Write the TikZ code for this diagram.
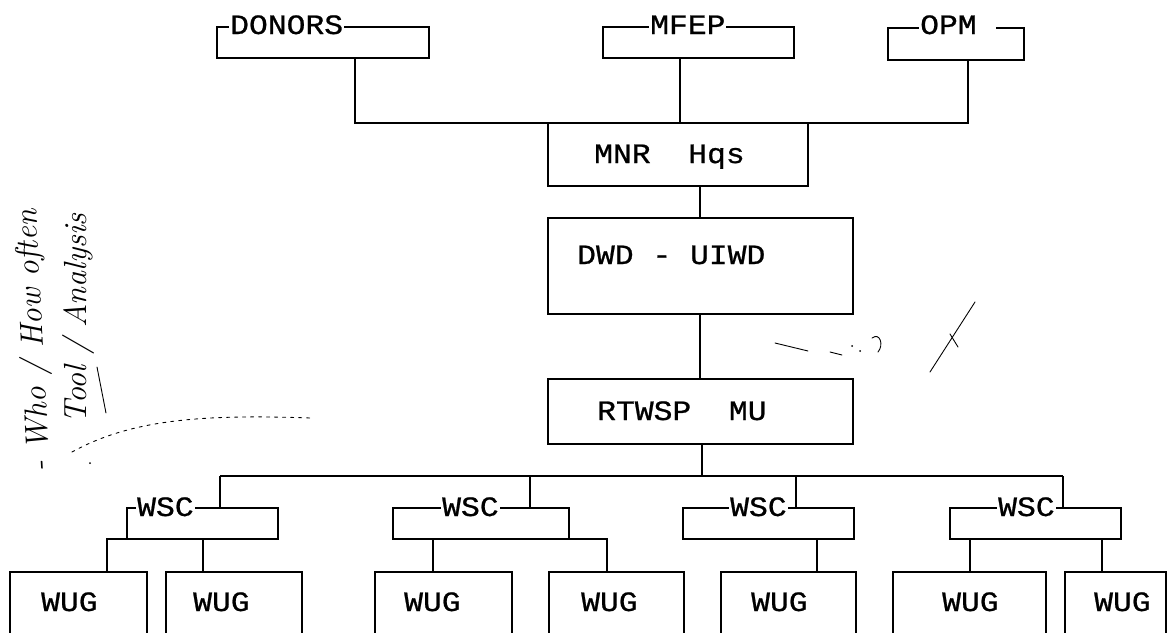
\documentclass[tikz,border=0pt]{standalone}
\usepackage{fontspec}
\newfontfamily\tw[FakeStretch=1.12,FakeBold=0.8]{Liberation Mono}
\begin{document}
\begin{tikzpicture}[x=1pt,y=-1pt,
  box/.style={draw, line width=1.5pt, inner sep=0pt, outer sep=0pt, anchor=north west},
  lbl/.style={font=\tw\fontsize{28}{28}\selectfont, inner sep=0pt, anchor=base west},
  tag/.style={lbl, fill=white, inner xsep=1pt, inner ysep=2pt},
  wire/.style={line width=1.5pt},
  hand/.style={font=\itshape\fontsize{32}{32}\selectfont, inner sep=0pt, anchor=base west},
  scrib/.style={line width=0.9pt, line cap=round}]
\useasboundingbox (0,0) rectangle (1172,632);
\clip (0,0) rectangle (1172,632);

% ---- top boxes
\node[box, minimum width=212pt, minimum height=31pt] (donors) at (217,27) {};
\node[tag] (donorsT) at (229,34) {DONORS};
\node[box, minimum width=191pt, minimum height=31pt] (mfep) at (603,27) {};
\node[tag] (mfepT) at (649,34) {MFEP};
\node[box, minimum width=136pt, minimum height=32pt] (opm) at (888,28) {};
\node[tag] (opmT) at (919,34) {OPM\phantom{M}};

% ---- central column
\node[box, minimum width=260pt, minimum height=63pt] (mnr) at (548,123) {};
\node[lbl] (mnrT) at (594,163) {MNR\ \ Hqs};
\node[box, minimum width=305pt, minimum height=96pt] (dwd) at (548,218) {};
\node[lbl] (dwdT) at (577,264) {DWD - UIWD};
\node[box, minimum width=305pt, minimum height=65pt] (rtw) at (548,379) {};
\node[lbl] (rtwT) at (597,420) {RTWSP\ \ MU};

% ---- WSC boxes
\node[box, minimum width=151pt, minimum height=31pt] (wsc1) at (127,508) {};
\node[tag] (wsc1T) at (136,516) {WSC};
\node[box, minimum width=176pt, minimum height=31pt] (wsc2) at (393,508) {};
\node[tag] (wsc2T) at (441,516) {WSC};
\node[box, minimum width=171pt, minimum height=31pt] (wsc3) at (683,508) {};
\node[tag] (wsc3T) at (729,516) {WSC};
\node[box, minimum width=171pt, minimum height=31pt] (wsc4) at (950,508) {};
\node[tag] (wsc4T) at (997,516) {WSC};

% ---- WUG boxes
\node[box, minimum width=137pt, minimum height=90pt] (wug1) at (10,572) {};
\node[lbl] (wug1T) at (41,611) {WUG};
\node[box, minimum width=136pt, minimum height=90pt] (wug2) at (166,572) {};
\node[lbl] (wug2T) at (193,611) {WUG};
\node[box, minimum width=137pt, minimum height=90pt] (wug3) at (375,572) {};
\node[lbl] (wug3T) at (404,611) {WUG};
\node[box, minimum width=135pt, minimum height=90pt] (wug4) at (549,572) {};
\node[lbl] (wug4T) at (581,611) {WUG};
\node[box, minimum width=135pt, minimum height=90pt] (wug5) at (721,572) {};
\node[lbl] (wug5T) at (751,611) {WUG};
\node[box, minimum width=153pt, minimum height=90pt] (wug6) at (893,572) {};
\node[lbl] (wug6T) at (942,611) {WUG};
\node[box, minimum width=101pt, minimum height=90pt] (wug7) at (1065,572) {};
\node[lbl] (wug7T) at (1094,611) {WUG};

% ---- connectors: top level
\draw[wire] (donors.south -| 355,0) -- (355,123) -- (968,123) -- (opm.south -| 968,0);
\draw[wire] (mfep.south -| 680,0) -- (680,123);
\draw[wire] (mnr.south -| 700,0) -- (dwd.north -| 700,0);
\draw[wire] (dwd.south -| 700,0) -- (rtw.north -| 700,0);
\draw[wire] (rtw.south -| 702,0) -- (702,476);
\draw[wire] (220,476) -- (1063,476);
\draw[wire] (220,476) -- (wsc1.north -| 220,0);
\draw[wire] (530,476) -- (wsc2.north -| 530,0);
\draw[wire] (796,476) -- (wsc3.north -| 796,0);
\draw[wire] (1063,476) -- (wsc4.north -| 1063,0);

% ---- connectors: WSC to WUG
\draw[wire] (wsc1.south west) -- (107,539) -- (wug1.north -| 107,0);
\draw[wire] (wsc1.south -| 203,0) -- (wug2.north -| 203,0);
\draw[wire] (wsc2.south -| 433,0) -- (wug3.north -| 433,0);
\draw[wire] (wsc2.south east) -- (607,539) -- (wug4.north -| 607,0);
\draw[wire] (wsc3.south -| 817,0) -- (wug5.north -| 817,0);
\draw[wire] (wsc4.south -| 970,0) -- (wug6.north -| 970,0);
\draw[wire] (wsc4.south -| 1102,0) -- (wug7.north -| 1102,0);

% ---- handwritten margin notes
\node[hand, rotate=93] (noteA) at (50,472) {- Who / How often};
\node[hand, rotate=90] (noteB) at (86,424) {Tool / Analysis};
\draw[scrib] (97,367) -- (106,413);
\draw[scrib, dash pattern=on 3pt off 5pt] (72,452) .. controls (130,420) and (200,414) .. (310,418);
\fill (90,463) circle (1pt);

% ---- stray marks on the right
\draw[scrib] (775,343) -- (808,351);
\draw[scrib] (830,352) -- (842,355);
\fill (852,346) circle (1pt);
\fill (860,351) circle (1pt);
\draw[scrib] (872,338) .. controls (880,332) and (884,345) .. (878,352);
\draw[scrib] (930,372) -- (975,302);
\draw[scrib] (950,334) -- (958,347);
\end{tikzpicture}
\end{document}
